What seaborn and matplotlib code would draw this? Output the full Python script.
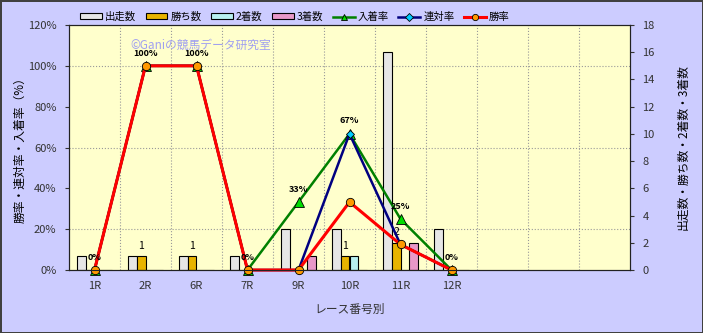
import numpy as np
import pandas as pd
import matplotlib
matplotlib.use("Agg")
import matplotlib.pyplot as plt
import seaborn as sns
from matplotlib.ticker import MultipleLocator, FixedLocator, FuncFormatter
from matplotlib.patches import Patch
from matplotlib.lines import Line2D

# ---------------- data ----------------
races = ["1R", "2R", "6R", "7R", "9R", "10R", "11R", "12R"]
blank_slots = [" ", "  ", "   "]
runs = [1, 1, 1, 1, 3, 3, 16, 3]          # 出走数
wins = [0, 1, 1, 0, 0, 1, 2, 0]           # 勝ち数
seconds = [0, 0, 0, 0, 0, 1, 0, 0]        # 2着数
thirds = [0, 0, 0, 0, 1, 0, 2, 0]         # 3着数
place_rate = [0, 100, 100, 0, 33.3, 66.7, 25, 0]   # 入着率
rentai_rate = [0, 100, 100, 0, 0, 66.7, 12.5, 0]   # 連対率
win_rate = [0, 100, 100, 0, 0, 33.3, 12.5, 0]      # 勝率
place_labels = ["0%", "100%", "100%", "0%", "33%", "67%", "25%", "0%"]
count_series = ["出走数", "勝ち数", "2着数", "3着数"]
rate_series = ["入着率", "連対率", "勝率"]
right_ticks = list(range(0, 19, 2))
left_ticks = list(range(0, 121, 20))

bar_colors = ["#E6E6E6", "#E8B400", "#B8F0F0", "#E898C8"]
line_colors = ["#008000", "#000080", "#FF0000"]
marker_faces = ["#00DD00", "#00CCFF", "#FF9900"]
marker_shapes = ["^", "D", "o"]
marker_sizes = [6.5, 4.5, 6]
line_widths = [1.8, 1.8, 2.2]

slots = races + blank_slots

plt.rcParams["font.family"] = ["Noto Sans CJK JP", "DejaVu Sans"]

fig = plt.figure(figsize=(7.03, 3.33), dpi=100)
fig.patch.set_facecolor("#CCCCFF")
fig.patch.set_edgecolor("#404040")
fig.patch.set_linewidth(2)

ax = fig.add_axes([69 / 703, 1 - 270 / 333, 561 / 703, 245 / 333])
ax.set_facecolor("#FFFFCC")

df = pd.DataFrame({
    "race": races * 4,
    "series": sum([[s] * len(races) for s in count_series], []),
    "value": runs + wins + seconds + thirds,
})
sns.barplot(data=df, x="race", y="value", hue="series", order=slots,
            hue_order=count_series, palette=bar_colors, saturation=1,
            width=0.7, edgecolor="black", linewidth=0.8, errorbar=None,
            legend=False, ax=ax, zorder=2)

ax2 = ax.twinx()
rates = [place_rate, rentai_rate, win_rate]
for vals, lc, mf, ms, msz, lw in zip(rates, line_colors, marker_faces,
                                       marker_shapes, marker_sizes, line_widths):
    sns.pointplot(x=races, y=vals, order=slots, color=lc, markers=ms,
                  linestyles="-", errorbar=None, ax=ax2,
                  linewidth=lw, markersize=msz, markerfacecolor=mf,
                  markeredgecolor="black", markeredgewidth=0.6, clip_on=False)

for i, (v, lab) in enumerate(zip(place_rate, place_labels)):
    ax2.annotate(lab, (i, v), xytext=(0, 6), textcoords="offset points",
                 ha="center", va="bottom", fontsize=6.5, fontweight="bold",
                 color="black")

ax.bar_label(ax.containers[1], labels=[str(w) if w else "" for w in wins],
             padding=4, fontsize=7.5, color="black")

# axes limits / ticks
ax.set_xlim(-0.5, len(slots) - 0.5)
ax.set_ylim(0, 18)
ax2.set_ylim(0, 120)
ax.yaxis.tick_right()
ax.yaxis.set_label_position("right")
ax2.yaxis.tick_left()
ax2.yaxis.set_label_position("left")
ax.set_yticks(right_ticks)
ax2.set_yticks(left_ticks)
ax2.yaxis.set_major_formatter(FuncFormatter(lambda v, p: f"{v:.0f}%"))
ax.set_xticks(range(len(slots)))
ax.set_xticklabels(slots)

# grid
ax.yaxis.set_minor_locator(MultipleLocator(3))
ax.xaxis.set_minor_locator(FixedLocator(np.arange(0.5, len(slots) - 1, 1.0)))
ax.grid(which="minor", axis="both", linestyle=":", color="#999999", linewidth=0.8)
ax.grid(which="major", visible=False)
ax.set_axisbelow(True)
ax.tick_params(which="minor", length=0)
ax.tick_params(axis="x", length=0, pad=8, labelsize=8, colors="#333333")
ax.tick_params(axis="y", length=3, pad=6, labelsize=8, colors="#333333")
ax2.tick_params(axis="y", length=3, pad=6, labelsize=8, colors="#333333")
for a in (ax, ax2):
    for s in a.spines.values():
        s.set_color("#222222")
        s.set_linewidth(0.8)

ax.set_xlabel("レース番号別", fontsize=8.5, color="#333333", va="center")
ax.xaxis.set_label_coords(0.5, -(309 - 270) / 245)
ax.set_ylabel("出走数・勝ち数・2着数・3着数", fontsize=8.5, rotation=90,
              color="black", va="center", ha="center")
ax.yaxis.set_label_coords((683 - 69) / 561, 0.5)
ax2.set_ylabel("勝率・連対率・入着率（%）", fontsize=8.5, color="black",
               va="center", ha="center")
ax2.yaxis.set_label_coords(-(69 - 20) / 561, 0.5)

# watermark
fig.text(130 / 703, 1 - 45 / 333, "©Ganiの競馬データ研究室", fontsize=8.5,
         color="#A0A0F0", va="center", ha="left")

# legend
handles = [Patch(facecolor=c, edgecolor="black", linewidth=0.8) for c in bar_colors]
handles += [Line2D([], [], color=lc, marker=ms, markerfacecolor=mf,
                   markeredgecolor="black", markeredgewidth=0.6, linewidth=lw,
                   markersize=4.5)
            for lc, mf, ms, lw in zip(line_colors, marker_faces, marker_shapes,
                                      line_widths)]
fig.legend(handles, count_series + rate_series, loc="center left",
           bbox_to_anchor=(80 / 703, 1 - 17 / 333), ncol=7, frameon=False,
           fontsize=7.5, handlelength=2.1, handleheight=0.5, columnspacing=0.9,
           handletextpad=0.3, borderaxespad=0, borderpad=0)

fig.savefig("out.png", dpi=100, facecolor=fig.get_facecolor(),
            edgecolor=fig.get_edgecolor())
